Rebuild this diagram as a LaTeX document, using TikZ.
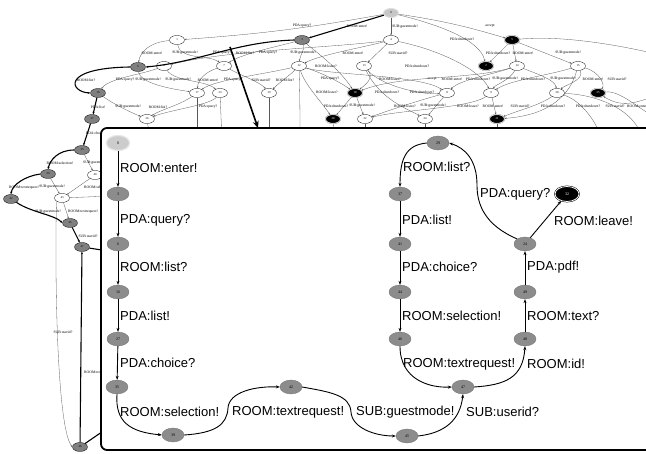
\documentclass[tikz,border=0pt]{standalone}
\usepackage{fontspec}
\setmainfont{Liberation Serif}
\newfontfamily\labfont{Liberation Sans}
\usetikzlibrary{shapes.geometric,arrows.meta}
\begin{document}
\begin{tikzpicture}[x=1pt,y=-1pt,
  bgn/.style={ellipse,draw=black,line width=0.3pt,minimum width=15pt,minimum height=9pt,inner sep=0pt,font=\fontsize{3}{3}\selectfont,fill=white},
  bgg/.style={bgn,fill=black!50},
  bgk/.style={bgn,fill=black,text=white,draw=black!45,double=white,double distance=0.4pt},
  bgs/.style={bgn,fill=black!22,draw=black!12,line width=0.9pt},
  bge/.style={draw=black!65,line width=0.3pt,-{Stealth[length=2pt,width=1.6pt]}},
  bgt/.style={draw=black,line width=1.1pt,-{Stealth[length=2.5pt,width=2pt]}},
  bgl/.style={font=\fontsize{3.7}{3.7}\selectfont,inner sep=0pt},
  inn/.style={ellipse,fill=black!45,draw=black!55,line width=0.3pt,minimum width=22pt,minimum height=14pt,inner sep=0pt,font=\fontsize{4}{4}\selectfont},
  ins/.style={inn,fill=black!20,draw=black!10,line width=1.2pt,minimum width=23pt,minimum height=15pt},
  ink/.style={inn,fill=black,text=white,draw=black,double=white,double distance=0.8pt,line width=0.5pt,minimum width=24pt,minimum height=15pt},
  ie/.style={line width=0.9pt,-{Stealth[length=4pt,width=3pt]}},
  il/.style={anchor=west,inner sep=0pt,font=\labfont\fontsize{13}{13}\selectfont}]
\useasboundingbox (0,0) rectangle (646,454);
\fill[white] (0,0) rectangle (646,454);

% ---------------- background graph ----------------
\node[bgs] (b0) at (391,13) {0};
\node[bgn] (b1) at (177,40) {1};
\node[bgg] (b3) at (302,40) {3};
\node[bgn] (b4) at (391,40) {4};
\node[bgk] (b5) at (512,40) {5};
\node[bgg] (b6) at (138,67) {6};
\node[bgn] (b11) at (164,66) {11};
\node[bgn] (b7) at (224,66) {7};
\node[bgn] (b12) at (299,66) {12};
\node[bgn] (b13) at (364,66) {13};
\node[bgk] (b2) at (486,66) {2};
\node[bgn] (b14) at (517,66) {14};
\node[bgn] (b15) at (578,66) {15};
\node[bgg] (b16) at (98,93) {16};
\node[bgn] (b17) at (197,93) {17};
\node[bgn] (b23) at (220,93) {23};
\node[bgn] (b19) at (269,93) {19};
\node[bgk] (b18) at (355,93) {18};
\node[bgn] (b8) at (447,93) {8};
\node[bgn] (b9) at (491,93) {9};
\node[bgn] (b20) at (557,93) {20};
\node[bgk] (b25) at (598,93) {25};
\node[bgg] (b27) at (92,119) {27};
\node[bgn] (b26) at (147,119) {26};
\node[bgk] (b28) at (333,119) {28};
\node[bgn] (b22) at (365,119) {22};
\node[bgn] (b24) at (425,119) {24};
\node[bgk] (b21) at (497,119) {21};
\node[bgg] (b35) at (82,150) {35};
\node[bgg] (b39) at (48,174) {39};
\node[bgn] (b40) at (95,175) {40};
\node[bgg] (b42) at (11,199) {42};
\node[bgn] (b43) at (62,198) {43};
\node[bgg] (b45) at (70,223) {45};
\node[bgg] (b47) at (82,247) {47};
\node[bgg] (b46) at (80,447) {46};

\coordinate (o1) at (197,140); \coordinate (o2) at (222,140);
\coordinate (o3) at (269,140); \coordinate (o4) at (300,140);
\coordinate (o5) at (150,140); \coordinate (o6) at (335,140);
\coordinate (o7) at (365,140); \coordinate (o8) at (425,140);
\coordinate (o9) at (497,140); \coordinate (o10) at (600,135);
\coordinate (o11) at (640,132); \coordinate (o12) at (660,55);
\coordinate (o13) at (660,120); \coordinate (o14) at (110,196);
\coordinate (o15) at (115,252); \coordinate (o16) at (112,425);
\coordinate (o17) at (660,95);

% thin edges
\draw[bge] (b0) to[bend left=3] (b1);   \node[bgl] (t1) at (302,26) {PDA:query?};
\draw[bge] (b0) -- (b4);   \node[bgl] (t2) at (405,27) {SUB:guestmode!};
\draw[bge] (b0) to[bend left=4] (b5);   \node[bgl] (t3) at (490,26) {accept};
\draw[bge] (b0) .. controls (440,25) and (480,40) .. (b2);   \node[bgl] (t4) at (462,39) {PDA:shutdown?};
\draw[bge] (b1) .. controls (150,42) and (140,52) .. (b6);   \node[bgl] (t5) at (152,53) {ROOM:enter!};
\draw[bge] (b1) .. controls (180,60) and (210,55) .. (b7);   \node[bgl] (t6) at (185,53) {SUB:guestmode!};
\draw[bge] (b3) .. controls (270,48) and (240,55) .. (b7);   \node[bgl] (t7) at (245,53) {ROOM:list?};
\draw[bge] (b4) .. controls (330,48) and (230,50) .. (b11);  \node[bgl] (t8) at (268,53) {PDA:query?};
\draw[bge] (b3) .. controls (305,50) and (300,55) .. (b12);  \node[bgl] (t9) at (303,53) {SUB:guestmode!};
\draw[bge] (b4) .. controls (360,48) and (320,55) .. (b12);  \node[bgl] (t10) at (353,53) {ROOM:enter!};
\draw[bge] (b4) -- (b13);  \node[bgl] (t11) at (398,53) {SUB:userid?};
\draw[bge] (b4) .. controls (440,50) and (480,70) .. (b9);   \node[bgl] (t12) at (417,66) {PDA:shutdown?};
\draw[bge] (b5) -- (b2);   \node[bgl] (t13) at (498,53) {PDA:shutdown?};
\draw[bge] (b5) -- (b14);  \node[bgl] (t14) at (523,53) {ROOM:enter!};
\draw[bge] (b5) -- (b15);  \node[bgl] (t15) at (568,53) {SUB:guestmode!};
\draw[bge] (b3) .. controls (320,55) and (340,70) .. (b18);  \node[bgl] (t16) at (326,66) {ROOM:leave?};
\draw[bge] (b6) .. controls (140,85) and (180,90) .. (b17);  \node[bgl] (t17) at (148,80) {SUB:guestmode!};
\draw[bge] (b11) .. controls (140,75) and (110,78) .. (b16); \node[bgl] (t18) at (125,80) {PDA:query?};
\draw[bge] (b11) .. controls (175,82) and (205,80) .. (b23); \node[bgl] (t19) at (178,80) {SUB:guestmode!};
\draw[bge] (b7) .. controls (205,72) and (198,80) .. (b17);  \node[bgl] (t20) at (208,80) {ROOM:enter!};
\draw[bge] (b12) .. controls (260,75) and (215,80) .. (b17); \node[bgl] (t21) at (233,80) {PDA:query?};
\draw[bge] (b7) .. controls (240,75) and (260,82) .. (b19);  \node[bgl] (t22) at (261,80) {SUB:userid?};
\draw[bge] (b12) .. controls (290,75) and (280,82) .. (b19); \node[bgl] (t23) at (285,80) {ROOM:list?};
\draw[bge] (b12) .. controls (320,72) and (340,82) .. (b18); \node[bgl] (t24) at (330,79) {PDA:query?};
\draw[bge] (b12) .. controls (305,85) and (320,100) .. (b28); \node[bgl] (t25) at (327,92) {ROOM:leave?};
\draw[bge] (b13) .. controls (375,78) and (365,85) .. (b18); \node[bgl] (t26) at (390,79) {ROOM:leave?};
\draw[bge] (b13) .. controls (380,85) and (420,95) .. (b8);  \node[bgl] (t27) at (387,92) {PDA:shutdown?};
\draw[bge] (b12) .. controls (330,75) and (420,75) .. (b8);  \node[bgl] (t28) at (432,79) {accept};
\draw[bge] (b14) .. controls (490,75) and (460,80) .. (b8);  \node[bgl] (t29) at (452,79) {ROOM:enter!};
\draw[bge] (b14) .. controls (470,80) and (400,75) .. (b18); \node[bgl] (t30) at (478,79) {PDA:shutdown?};
\draw[bge] (b14) .. controls (510,80) and (495,85) .. (b9);  \node[bgl] (t31) at (505,79) {SUB:guestmode!};
\draw[bge] (b15) .. controls (550,75) and (510,80) .. (b9);  \node[bgl] (t32) at (533,79) {PDA:shutdown?};
\draw[bge] (b14) .. controls (540,75) and (555,80) .. (b20); \node[bgl] (t33) at (563,79) {SUB:guestmode!};
\draw[bge] (b15) .. controls (585,80) and (565,85) .. (b20); \node[bgl] (t34) at (593,79) {ROOM:enter!};
\draw[bge] (b15) .. controls (600,72) and (605,85) .. (b25); \node[bgl] (t35) at (617,79) {SUB:userid?};
\draw[bge] (b13) .. controls (380,100) and (410,110) .. (b24); \node[bgl] (t36) at (422,92) {PDA:shutdown?};
\draw[bge] (b16) .. controls (115,105) and (130,112) .. (b26); \node[bgl] (t37) at (128,107) {SUB:guestmode!};
\draw[bge] (b17) .. controls (180,105) and (160,110) .. (b26); \node[bgl] (t38) at (158,107) {ROOM:list?};
\draw[bge] (b23) .. controls (210,105) and (170,110) .. (b26); \node[bgl] (t39) at (208,107) {PDA:query?};
\draw[bge] (b18) -- (b28);  \node[bgl] (t40) at (336,106) {PDA:shutdown?};
\draw[bge] (b18) -- (b22);  \node[bgl] (t41) at (362,106) {SUB:guestmode!};
\draw[bge] (b8) .. controls (420,100) and (390,110) .. (b22);  \node[bgl] (t42) at (405,106) {ROOM:leave?};
\draw[bge] (b8) -- (b24);   \node[bgl] (t43) at (433,106) {SUB:guestmode!};
\draw[bge] (b9) .. controls (470,108) and (400,110) .. (b22);  \node[bgl] (t44) at (468,106) {ROOM:leave?};
\draw[bge] (b9) -- (b21);   \node[bgl] (t45) at (493,106) {ROOM:enter!};
\draw[bge] (b20) .. controls (540,105) and (520,110) .. (b21); \node[bgl] (t46) at (520,106) {SUB:userid?};
\draw[bge] (b15) .. controls (570,95) and (550,115) .. (b21);  \node[bgl] (t47) at (553,106) {PDA:shutdown?};
\draw[bge] (b20) .. controls (580,100) and (595,120) .. (o10); \node[bgl] (t48) at (588,106) {PDA:shutdown?};
\draw[bge] (b20) .. controls (600,95) and (630,110) .. (o11);  \node[bgl] (t49) at (615,106) {SUB:userid?};
\draw[bge] (o17) .. controls (640,100) and (625,110) .. (b25);  \node[bgl] (t50) at (637,106) {ROOM:enter};
\draw[bge] (b5) .. controls (560,35) and (620,45) .. (o12);
\draw[bge] (b25) .. controls (620,90) and (640,110) .. (o13);
\draw[bge] (b26) -- (o5);  \draw[bge] (b17) -- (o1); \draw[bge] (b23) -- (o2);
\draw[bge] (b19) -- (o3);  \draw[bge] (b12) .. controls (300,100) and (300,120) .. (o4);
\draw[bge] (b28) -- (o6);  \draw[bge] (b22) -- (o7); \draw[bge] (b24) -- (o8);
\draw[bge] (b21) -- (o9);

% left column thin edges
\draw[bge] (b35) -- (b40);  \node[bgl,anchor=west] (t51) at (83,163) {SUB:guestmode!};
\draw[bge] (b39) -- (b43);  \node[bgl] (t52) at (52,187) {SUB:guestmode!};
\draw[bge] (b40) -- (b43);  \node[bgl,anchor=west] (t53) at (84,187) {ROOM:selection!};
\draw[bge] (b43) -- (b45);  \node[bgl,anchor=west] (t54) at (68,212) {ROOM:textrequest!};
\draw[bge] (b43) -- (o14);
\draw[bge] (b43.south west) .. controls (55,240) and (55,425) .. (b46.west);
\node[bgl] (t55) at (63,332) {SUB:userid?};

% thick path
\draw[bgt] (b0) -- (b3);  \node[bgl] (t56) at (357,26) {ROOM:enter!};
\draw[bgt] (b3.west) .. controls (235,42) and (200,62) .. (b6.east); \node[bgl] (t57) at (222,53) {PDA:query?};
\draw[bgt] (b6.west) .. controls (60,68) and (70,92) .. (b16.west);  \node[bgl] (t58) at (86,80) {ROOM:list?};
\draw[bgt] (b16) -- (b27);  \node[bgl] (t59) at (98,107) {PDA:list!};
\draw[bgt] (b27) -- (b35);  \node[bgl,anchor=west] (t60) at (86,133) {PDA:choice?};
\draw[bgt] (b35.west) .. controls (58,150) and (50,160) .. (b39.north); \node[bgl] (t61) at (60,163) {ROOM:selection!};
\draw[bgt] (b39.west) .. controls (25,176) and (12,185) .. (b42.north); \node[bgl] (t62) at (24,188) {ROOM:textrequest!};
\draw[bgt] (b42.south east) .. controls (30,212) and (55,215) .. (b45.west); \node[bgl] (t63) at (48,212) {SUB:guestmode!};
\draw[bgt] (b45) -- (b47);  \node[bgl] (t64) at (88,236) {SUB:userid?};
\draw[bgt] (b46) -- (b47);  \node[bgl,anchor=west] (t65) at (84,373) {ROOM:textrequest!};
\draw[bgt] (b47) -- (o15);
\draw[bgt] (b46) -- (o16);

% ---------------- inset ----------------
\draw[line width=1.8pt,rounded corners=6pt,fill=white] (101,128) rectangle (700,450);

\node[ins] (n0) at (118,143) {0};
\node[inn] (n3) at (118,194) {3};
\node[inn] (n6) at (118,244) {6};
\node[inn] (n16) at (118,292) {16};
\node[inn] (n27) at (118,339) {27};
\node[inn] (n35) at (117,387) {35};
\node[inn] (n39) at (173,435) {39};
\node[inn] (n42) at (291,387) {42};
\node[inn] (n45) at (407,436) {45};
\node[inn] (n47) at (463,387) {47};
\node[inn] (n46) at (400,339) {46};
\node[inn] (n48) at (525,339) {48};
\node[inn] (n49) at (525,292) {49};
\node[inn] (n24) at (525,244) {24};
\node[inn] (n29) at (438,143) {29};
\node[inn] (n37) at (400,194) {37};
\node[inn] (n41) at (400,244) {41};
\node[inn] (n44) at (400,292) {44};
\node[ink] (n32) at (567,194) {32};

\draw[ie] (n0) -- (n3);   \node[il] (L1) at (120,168) {ROOM:enter!};
\draw[ie] (n3) -- (n6);   \node[il] (L2) at (120,220) {PDA:query?};
\draw[ie] (n6) -- (n16);  \node[il] (L3) at (120,267) {ROOM:list?};
\draw[ie] (n16) -- (n27); \node[il] (L4) at (120,316) {PDA:list!};
\draw[ie] (n27) -- (n35); \node[il] (L5) at (120,363) {PDA:choice?};
\draw[ie] (n35.south) .. controls (115,422) and (130,432) .. (n39.west);
\node[il] (L6) at (120,412) {ROOM:selection!};
\draw[ie] (n39.east) .. controls (215,433) and (227,425) .. (228,408) .. controls (229,392) and (255,386) .. (n42.west);
\node[il] (L7) at (232,412) {ROOM:textrequest!};
\draw[ie] (n42.east) .. controls (330,392) and (350,395) .. (351,412) .. controls (352,428) and (375,436) .. (n45.west);
\node[il] (L8) at (356,412) {SUB:guestmode!};
\draw[ie] (n45.east) .. controls (445,433) and (460,420) .. (n47.south);
\node[il] (L9) at (466,412) {SUB:userid?};
\draw[ie] (n46.south) .. controls (400,380) and (430,388) .. (n47.west);
\node[il] (L10) at (403,364) {ROOM:textrequest!};
\draw[ie] (n47.east) .. controls (505,385) and (523,378) .. (n48.south);
\node[il] (L11) at (527,364) {ROOM:id!};
\draw[ie] (n44) -- (n46);  \node[il] (L12) at (402,316) {ROOM:selection!};
\draw[ie] (n48) -- (n49);  \node[il] (L13) at (527,316) {ROOM:text?};
\draw[ie] (n41) -- (n44);  \node[il] (L14) at (402,267) {PDA:choice?};
\draw[ie] (n49) -- (n24);  \node[il] (L15) at (527,267) {PDA:pdf!};
\draw[ie] (n37) -- (n41);  \node[il] (L16) at (402,220) {PDA:list!};
\draw[ie] (n24) -- (n32);  \node[il] (L17) at (554,221) {ROOM:leave!};
\draw[ie] (n24.north west) .. controls (485,225) and (477,205) .. (477,185) .. controls (477,160) and (465,148) .. (n29.east);
\node[il] (L18) at (480,194) {PDA:query?};
\draw[ie] (n29.west) .. controls (405,145) and (400,160) .. (n37.north);
\node[il] (L19) at (403,167) {ROOM:list?};

% pointer arrow
\coordinate (pa) at (230,47);
\coordinate (pb) at (258,128);
\draw[line width=1.6pt,-{Stealth[length=7pt,width=6pt]}] (pa) -- (pb);
\end{tikzpicture}
\end{document}
